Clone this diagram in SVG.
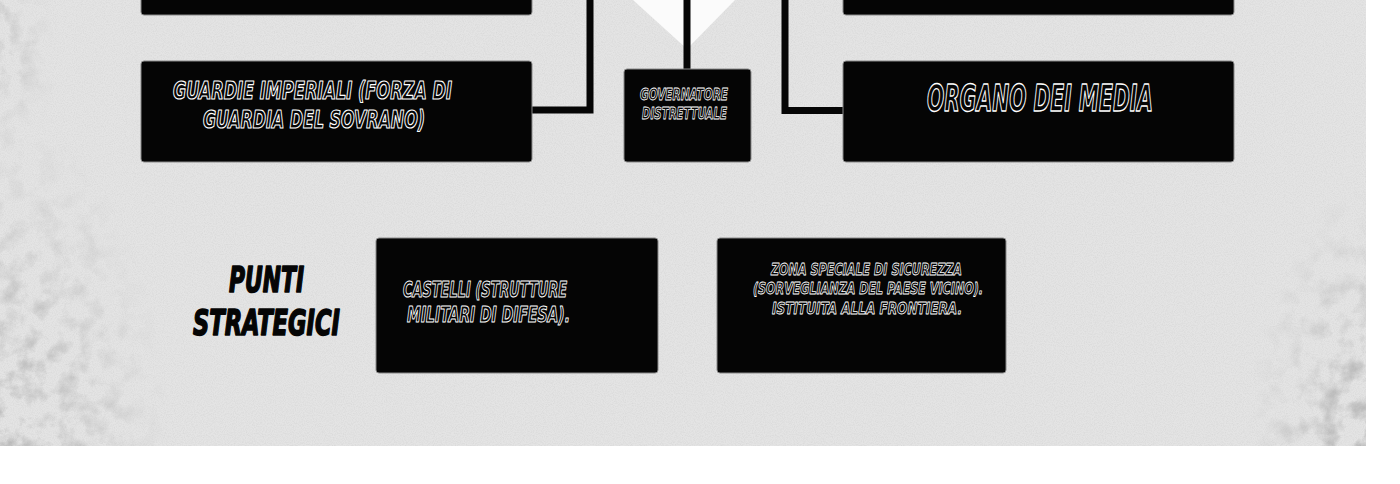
<svg xmlns="http://www.w3.org/2000/svg" width="1400" height="484" viewBox="0 0 1400 484">
<defs>
<style>
.box{fill:#050505;stroke:#8a8a8a;stroke-width:1}
.wire{fill:none;stroke:#050505;stroke-width:7;stroke-linejoin:miter}
.t{font-family:"Liberation Sans Narrow","DejaVu Sans Condensed","DejaVu Sans",sans-serif;font-weight:bold;font-style:italic;fill:#050505;stroke:#ffffff;stroke-linejoin:round}
.lbl{font-family:"Liberation Sans Narrow","DejaVu Sans Condensed","DejaVu Sans",sans-serif;font-weight:bold;font-style:italic;fill:#050505;stroke:#050505;stroke-width:1.6;stroke-linejoin:round}
</style>
<filter id="noise" x="0" y="0" width="100%" height="100%">
<feTurbulence type="fractalNoise" baseFrequency="0.9" numOctaves="2" seed="3"/>
<feColorMatrix type="matrix" values="0 0 0 0 0.45  0 0 0 0 0.45  0 0 0 0 0.45  0 0 0 -1.2 0.75"/>
</filter>
<filter id="grunge" x="0" y="0" width="100%" height="100%">
<feTurbulence type="fractalNoise" baseFrequency="0.05" numOctaves="5" seed="7"/>
<feColorMatrix type="matrix" values="0 0 0 0 0.4  0 0 0 0 0.4  0 0 0 0 0.4  0 0 0 -2.4 1.35"/>
</filter>
<radialGradient id="gl" cx="0.5" cy="0.5" r="0.5">
<stop offset="0" stop-color="#fff" stop-opacity="0.95"/>
<stop offset="0.5" stop-color="#fff" stop-opacity="0.5"/>
<stop offset="1" stop-color="#fff" stop-opacity="0"/>
</radialGradient>
<mask id="edgeMask">
<rect x="0" y="0" width="1366" height="446" fill="#000"/>
<ellipse cx="0" cy="446" rx="170" ry="330" fill="url(#gl)"/>
<ellipse cx="1366" cy="446" rx="120" ry="260" fill="url(#gl)"/>
<ellipse cx="0" cy="40" rx="60" ry="120" fill="url(#gl)" opacity="0.6"/>
</mask>
</defs>

<rect x="0" y="0" width="1400" height="484" fill="#ffffff"/>
<g id="background">
<rect x="0" y="0" width="1366" height="446" fill="#e4e4e4"/>
<rect x="0" y="0" width="1366" height="446" filter="url(#noise)" opacity="0.35"/>
<g mask="url(#edgeMask)">
<rect x="0" y="0" width="1366" height="446" filter="url(#grunge)"/>
</g>
<polygon points="633,0 735,0 687,49" fill="#fbfbfb"/>
</g>

<g id="connectors">
<polyline class="wire" points="532,110 590,110 590,0"/>
<line class="wire" x1="687" y1="0" x2="687" y2="69"/>
<polyline class="wire" points="843,110.5 785,110.5 785,0"/>
</g>

<g id="node-top-left">
<rect class="box" x="141" y="-20" width="391" height="35" rx="3"/>
</g>
<g id="node-top-right">
<rect class="box" x="843" y="-20" width="391" height="35" rx="3"/>
</g>

<g id="node-guardie">
<rect class="box" x="141" y="61" width="391" height="101" rx="3"/>
<text class="t" x="173" y="99" font-size="24" stroke-width="1.2" textLength="279" lengthAdjust="spacingAndGlyphs">GUARDIE IMPERIALI (FORZA DI</text>
<text class="t" x="203" y="128" font-size="24" stroke-width="1.2" textLength="222" lengthAdjust="spacingAndGlyphs">GUARDIA DEL SOVRANO)</text>
</g>

<g id="node-governatore">
<rect class="box" x="624" y="69" width="127" height="93" rx="3"/>
<text class="t" x="640" y="100" font-size="16" stroke-width="0.8" textLength="88" lengthAdjust="spacingAndGlyphs">GOVERNATORE</text>
<text class="t" x="642" y="119" font-size="16" stroke-width="0.8" textLength="85" lengthAdjust="spacingAndGlyphs">DISTRETTUALE</text>
</g>

<g id="node-media">
<rect class="box" x="843" y="61" width="391" height="101" rx="3"/>
<text class="t" x="927" y="111" font-size="38" stroke-width="1.4" textLength="226" lengthAdjust="spacingAndGlyphs">ORGANO DEI MEDIA</text>
</g>

<g id="label-punti">
<text class="lbl" x="229" y="292" font-size="36" textLength="75" lengthAdjust="spacingAndGlyphs">PUNTI</text>
<text class="lbl" x="193" y="335" font-size="36" textLength="147" lengthAdjust="spacingAndGlyphs">STRATEGICI</text>
</g>

<g id="node-castelli">
<rect class="box" x="376" y="238" width="282" height="135" rx="3"/>
<text class="t" x="403" y="297" font-size="21" stroke-width="1" textLength="164" lengthAdjust="spacingAndGlyphs">CASTELLI (STRUTTURE</text>
<text class="t" x="407" y="322" font-size="21" stroke-width="1" textLength="163" lengthAdjust="spacingAndGlyphs">MILITARI DI DIFESA).</text>
</g>

<g id="node-zona">
<rect class="box" x="717" y="238" width="289" height="135" rx="3"/>
<text class="t" x="771" y="275" font-size="16" stroke-width="0.8" textLength="191" lengthAdjust="spacingAndGlyphs">ZONA SPECIALE DI SICUREZZA</text>
<text class="t" x="753" y="294" font-size="16" stroke-width="0.8" textLength="230" lengthAdjust="spacingAndGlyphs">(SORVEGLIANZA DEL PAESE VICINO).</text>
<text class="t" x="772" y="314" font-size="16" stroke-width="0.8" textLength="190" lengthAdjust="spacingAndGlyphs">ISTITUITA ALLA FRONTIERA.</text>
</g>
</svg>
